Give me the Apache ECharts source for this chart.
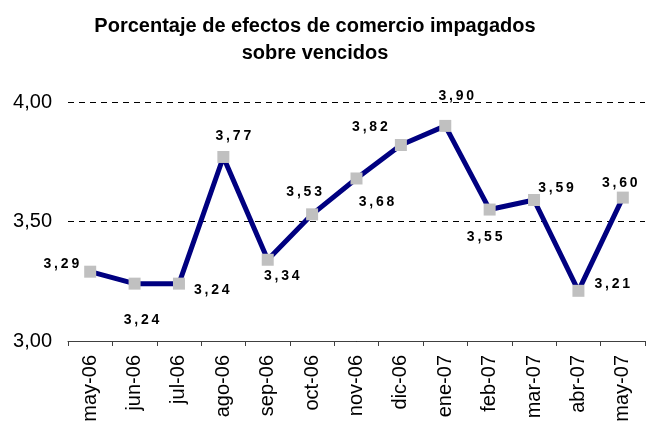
<!DOCTYPE html>
<html>
<head>
<meta charset="utf-8">
<script src="https://cdn.jsdelivr.net/npm/echarts@6/dist/echarts.min.js"></script>
<style>
  html, body { margin: 0; padding: 0; background: #fff; }
  #chart { width: 658px; height: 426px; }
</style>
</head>
<body>
<div id="chart"></div>
<script>
// --- données ---
const months = ['may-06', 'jun-06', 'jul-06', 'ago-06', 'sep-06', 'oct-06', 'nov-06',
  'dic-06', 'ene-07', 'feb-07', 'mar-07', 'abr-07', 'may-07'];
const impagados = [3.29, 3.24, 3.24, 3.77, 3.34, 3.53, 3.68, 3.82, 3.90, 3.55, 3.59, 3.21, 3.60];

// placement des étiquettes (comme dans l'original)
const labelPlace = [
  { position: 'left', offset: [0, -8] },
  { position: 'bottom', offset: [7, 19] },
  { position: 'right', offset: [4, 7] },
  { position: 'top', offset: [10, -3] },
  { position: 'bottom', offset: [14, -2] },
  { position: 'top', offset: [-8, -4] },
  { position: 'bottom', offset: [20, 6] },
  { position: 'top', offset: [-31, 0] },
  { position: 'top', offset: [11, -12] },
  { position: 'bottom', offset: [-5, 10] },
  { position: 'top', offset: [22, 6] },
  { position: 'right', offset: [5, -7] },
  { position: 'top', offset: [-3, 4] }
];

const fmt = v => v.toFixed(2).replace('.', ',');
const spaced = s => s.split('').join('\u2009');

const chart = echarts.init(document.getElementById('chart'));

chart.setOption({
  animation: false,
  textStyle: { fontFamily: 'Liberation Sans, Arial, sans-serif' },
  title: {
    text: 'Porcentaje de efectos de comercio impagados\nsobre vencidos',
    left: 310,
    textAlign: 'center',
    top: 8,
    textStyle: { fontSize: 20, fontWeight: 'bold', color: '#000', lineHeight: 27 }
  },
  grid: { left: 68, right: 13, top: 102, bottom: 85 },
  xAxis: {
    type: 'category',
    data: months,
    boundaryGap: true,
    axisLine: { lineStyle: { color: '#404040', width: 1 } },
    axisTick: { show: true, length: 5, lineStyle: { color: '#404040' } },
    axisLabel: { rotate: 90, fontSize: 20, color: '#000', margin: 14, interval: 0 }
  },
  yAxis: {
    type: 'value',
    min: 3,
    max: 4,
    interval: 0.5,
    axisLine: { show: false },
    axisTick: { show: false },
    axisLabel: { fontSize: 20, color: '#000', margin: 16, formatter: v => fmt(v) },
    splitLine: {
      show: true,
      lineStyle: { color: '#000', type: [6, 5], width: 1 }
    }
  },
  series: [{
    type: 'line',
    data: impagados.map((v, i) => ({
      value: v,
      label: labelPlace[i]
    })),
    lineStyle: { color: '#000080', width: 5 },
    itemStyle: { color: '#C0C0C0' },
    symbol: 'rect',
    symbolSize: 12,
    z: 3,
    label: {
      show: true,
      fontSize: 14,
      fontWeight: 'bold',
      color: '#000',
      distance: 5,
      formatter: p => spaced(fmt(p.value))
    }
  }]
});
</script>
</body>
</html>
